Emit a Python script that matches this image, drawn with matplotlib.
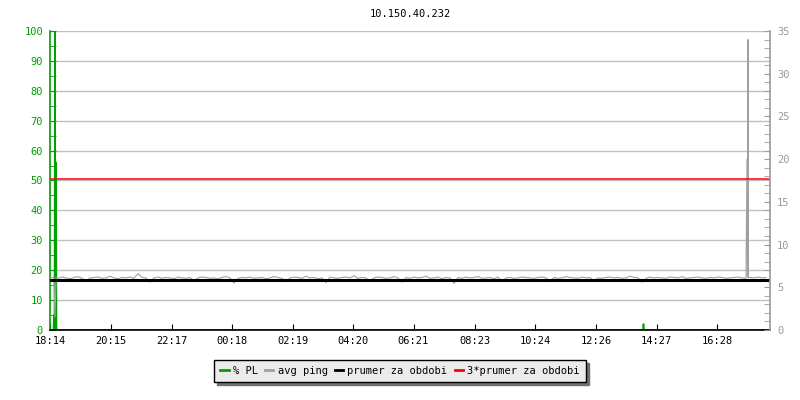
import numpy as np
import matplotlib
matplotlib.use("Agg")
import matplotlib.pyplot as plt
from matplotlib.ticker import MultipleLocator

plt.rcParams['font.family'] = ['DejaVu Sans Mono']
plt.rcParams['font.size'] = 7.5

title = "10.150.40.232"

# x tick labels (time of day), start of graph is 18:14
tick_labels = ["18:14", "20:15", "22:17", "00:18", "02:19", "04:20",
               "06:21", "08:23", "10:24", "12:26", "14:27", "16:28"]

# packet loss in % (minutes from start)
pl_t = [0, 7, 8, 9, 10, 11, 12, 13, 1186, 1187, 1188, 1440]
pl_v = [0, 0, 5, 0, 100, 0, 56, 0, 0, 2, 0, 0]

# average ping in ms, one sample every 8 minutes
ping_step = 8
ping_ms = [
    6.10, 6.15, 6.05, 6.20, 6.10, 6.00, 6.15, 6.25, 6.05, 5.70, 6.10, 6.15, 6.20, 6.05, 6.10, 6.30, 6.10, 6.00, 6.15, 6.10,
    6.20, 6.05, 6.60, 6.15, 6.10, 5.60, 6.10, 6.20, 6.05, 6.15, 6.10, 6.00, 6.20, 6.10, 6.05, 6.15, 5.75, 6.10, 6.20, 6.15,
    6.05, 6.10, 6.00, 6.15, 6.25, 6.10, 5.50, 6.05, 6.15, 6.10, 6.20, 6.05, 6.10, 6.15, 6.00, 6.10, 6.25, 6.15, 6.05, 5.65,
    6.10, 6.20, 6.15, 6.05, 6.30, 6.10, 6.15, 6.00, 6.10, 5.55, 6.20, 6.10, 6.05, 6.15, 6.20, 6.10, 6.35, 6.05, 6.15, 6.10,
    5.70, 6.10, 6.20, 6.15, 6.05, 6.10, 6.25, 6.10, 5.60, 6.15, 6.05, 6.20, 6.10, 6.15, 6.30, 6.05, 6.10, 6.20, 6.00, 6.15,
    6.10, 5.45, 6.15, 6.05, 6.20, 6.10, 6.15, 6.25, 6.05, 6.10, 6.15, 6.00, 6.20, 5.70, 6.10, 6.15, 6.05, 6.10, 6.20, 6.15,
    6.10, 6.05, 6.15, 6.20, 6.10, 5.65, 6.15, 6.05, 6.10, 6.25, 6.15, 6.10, 6.05, 6.20, 6.10, 6.15, 5.75, 6.10, 6.05, 6.15,
    6.20, 6.10, 6.15, 6.05, 6.10, 6.30, 6.15, 6.10, 5.60, 6.05, 6.20, 6.10, 6.15, 6.10, 6.05, 6.20, 6.15, 6.10, 6.25, 6.05,
    6.10, 6.15, 6.20, 6.10, 6.05, 6.15, 6.10, 6.20, 6.15, 6.05, 6.10, 6.15, 6.20, 6.10, 6.05, 6.15, 6.10, 6.20, 6.10, 6.15,
]
# extra samples at the ping outliers
spike_t = [10, 12, 1394, 1395, 1396, 1397]
spike_v = [1.5, 6.1, 20.0, 6.2, 34.0, 6.1]

prumer = 5.9  # mean over the period (ms)

green = '#00a000'
grey = '#a0a0a0'

# merge ping samples
t_all = np.concatenate([np.arange(len(ping_ms)) * ping_step, spike_t])
v_all = np.concatenate([ping_ms, spike_v])
order = np.argsort(t_all, kind='stable')
t_all = t_all[order]
v_all = v_all[order]

# tick positions from the label times
start = 18 * 60 + 14
tick_pos = []
for lab in tick_labels:
    h, m = lab.split(":")
    tick_pos.append((int(h) * 60 + int(m) - start) % 1440)

fig = plt.figure(figsize=(8, 4), dpi=100)
ax = fig.add_axes([0.0625, 0.175, 0.9, 0.7475])
ax2 = ax.twinx()

ax.plot(pl_t, pl_v, color=green, lw=1.2, label='% PL')
ax2.plot(t_all, v_all, color=grey, lw=0.8, label='avg ping')
ax2.plot([0, 1440], [prumer, prumer], color='black', lw=2.2, label='prumer za obdobi')
ax2.plot([0, 1440], [3 * prumer, 3 * prumer], color='red', lw=1.1, label='3*prumer za obdobi')

ax.set_xlim(0, 1440)
ax.set_ylim(0, 100)
ax2.set_ylim(0, 35)

ax.set_xticks(tick_pos)
ax.set_xticklabels(tick_labels)
ax.tick_params(axis='x', direction='in', length=4, color='black', pad=4)

ax.yaxis.set_major_locator(MultipleLocator(10))
ax.yaxis.set_minor_locator(MultipleLocator(5))
ax.tick_params(axis='y', which='both', direction='in', length=4, color=green,
               labelcolor=green, pad=5)
ax.grid(axis='y', color='#c0c0c0', lw=1)
ax.set_axisbelow(True)

ax2.yaxis.set_major_locator(MultipleLocator(5))
ax2.yaxis.set_minor_locator(MultipleLocator(1))
ax2.tick_params(axis='y', which='both', direction='in', length=4, color='#999999',
                labelcolor='#999999', pad=5)

for a in (ax, ax2):
    a.spines['top'].set_visible(False)
ax.spines['left'].set_color(green)
ax.spines['bottom'].set_color('black')
ax.spines['right'].set_visible(False)
ax2.spines['left'].set_visible(False)
ax2.spines['bottom'].set_visible(False)
ax2.spines['right'].set_color('#999999')
for s in ax.spines.values():
    s.set_linewidth(1.2)
ax2.spines['right'].set_linewidth(1.2)

ax.set_title(title, fontsize=7.5, pad=10)

h1, l1 = ax.get_legend_handles_labels()
h2, l2 = ax2.get_legend_handles_labels()
leg = fig.legend(h1 + h2, l1 + l2, loc='center', bbox_to_anchor=(0.5, 0.0725),
                 ncol=4, fancybox=False, framealpha=1, handlelength=0.8,
                 handletextpad=0.4, columnspacing=0.7, borderpad=0.6,
                 shadow={'color': '#707070', 'alpha': 1})
leg.get_frame().set_facecolor('#ebebeb')
leg.get_frame().set_edgecolor('black')
for line in leg.get_lines():
    line.set_linewidth(2)

fig.savefig("out.png", dpi=100)
